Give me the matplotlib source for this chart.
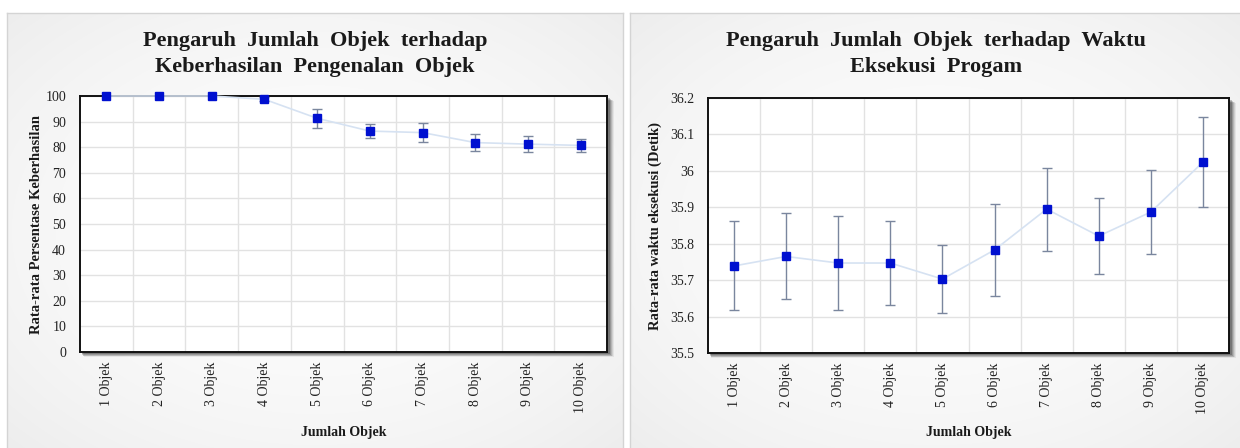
import numpy as np
import matplotlib
matplotlib.use("Agg")
import matplotlib.pyplot as plt
from matplotlib.patches import Rectangle
from matplotlib.ticker import FuncFormatter, MultipleLocator

# ---------------- data ----------------
categories = ["1 Objek", "2 Objek", "3 Objek", "4 Objek", "5 Objek",
              "6 Objek", "7 Objek", "8 Objek", "9 Objek", "10 Objek"]
success_mean = [100, 100, 100, 98.7, 91.3, 86.3, 85.7, 81.8, 81.2, 80.7]
success_err = [0, 0, 0, 0.8, 3.7, 2.9, 3.6, 3.2, 3.0, 2.6]
time_mean = [35.739, 35.765, 35.747, 35.747, 35.703, 35.783, 35.895, 35.821, 35.887, 36.024]
time_err = [0.122, 0.118, 0.130, 0.115, 0.093, 0.126, 0.114, 0.105, 0.116, 0.123]

title_left = ["Pengaruh  Jumlah  Objek  terhadap", "Keberhasilan  Pengenalan  Objek"]
title_right = ["Pengaruh  Jumlah  Objek  terhadap  Waktu", "Eksekusi  Progam"]
ylabel_left = "Rata-rata Persentase Keberhasilan"
ylabel_right = "Rata-rata waktu eksekusi (Detik)"
xlabel = "Jumlah Objek"

W, H = 1240, 448
plt.rcParams['font.family'] = ['Liberation Serif', 'DejaVu Serif']
fig = plt.figure(figsize=(W / 100, H / 100), dpi=100)
fig.patch.set_facecolor("white")


def px_rect(x0, y0, x1, y1):
    """convert top-left pixel box to figure fraction [l, b, w, h]"""
    return [x0 / W, (H - y1) / H, (x1 - x0) / W, (y1 - y0) / H]


def card(x0, y0, x1, y1):
    cax = fig.add_axes(px_rect(x0, y0, x1, y1), zorder=0)
    ny, nx = 200, 300
    yy, xx = np.mgrid[-1:1:ny * 1j, -1:1:nx * 1j]
    r = np.sqrt(xx ** 2 + yy ** 2) / np.sqrt(2)
    g = 0.99 - 0.06 * r ** 2
    img = np.dstack([g, g, g])
    cax.imshow(img, aspect="auto", extent=[0, 1, 0, 1], interpolation="bilinear")
    cax.set_xlim(0, 1)
    cax.set_ylim(0, 1)
    cax.set_xticks([])
    cax.set_yticks([])
    for s in cax.spines.values():
        s.set_color("#d4d4d4")
        s.set_linewidth(1.0)
    return cax


def shadow(x0, y0, x1, y1):
    # soft drop shadow to right/bottom of plot area
    for k, a in zip(range(5, 0, -1), [0.06, 0.09, 0.12, 0.16, 0.22]):
        off = 1.5
        rect = Rectangle(((x0 + off + k * 0.4) / W, (H - y1 - off - k * 0.7) / H),
                         (x1 - x0 + k * 0.6) / W, (y1 - y0) / H,
                         transform=fig.transFigure, facecolor="black",
                         edgecolor="none", alpha=a, zorder=1)
        fig.patches.append(rect)


card(7, 13, 623, 449)
card(630, 13, 1241, 449)

for cx, lines in ((315, title_left), (936, title_right)):
    for ty, line in zip((41, 67), lines):
        fig.text(cx / W, 1 - ty / H, line, ha="center", va="center",
                 fontsize=16, fontweight="bold", color="#1a1a1a")

x = np.arange(1, len(categories) + 1)


def make_axes(box, mean, err, ylim, ystep, fmt, ylabel, ylabel_x):
    x0, y0, x1, y1 = box
    shadow(x0, y0, x1, y1)
    ax = fig.add_axes(px_rect(x0, y0, x1, y1), zorder=2)
    ax.set_facecolor("white")
    ax.set_xlim(0.5, len(categories) + 0.5)
    ax.set_ylim(*ylim)
    ax.yaxis.set_major_locator(MultipleLocator(ystep))
    ax.yaxis.set_major_formatter(FuncFormatter(fmt))
    ax.set_xticks(x)
    ax.set_xticklabels(categories, rotation=90, fontsize=10, color="#222222")
    ax.set_xticks(np.arange(1.5, len(categories), 1.0), minor=True)
    ax.tick_params(axis="x", which="both", length=0, pad=7)
    ax.tick_params(axis="y", which="both", length=0, pad=10, labelsize=10,
                   labelcolor="#222222")
    ax.grid(True, axis="y", which="major", color="#e2e2e2", linewidth=1.0)
    ax.grid(True, axis="x", which="minor", color="#e2e2e2", linewidth=1.0)
    ax.set_axisbelow(True)
    for s in ax.spines.values():
        s.set_color("#111111")
        s.set_linewidth(1.4)
    ax.plot(x, mean, color="#d6e2f2", linewidth=1.2, zorder=3, clip_on=False)
    mean_a = np.asarray(mean, dtype=float)
    err_a = np.asarray(err, dtype=float)
    has = err_a > 0
    ax.errorbar(x[has], mean_a[has], yerr=err_a[has], fmt="none", ecolor="#7a869e",
                elinewidth=1.0, capsize=3.5, capthick=1.0, zorder=4, clip_on=False)
    ax.plot(x, mean, linestyle="none", marker="s", markersize=5.5,
            color="#0010d0", markeredgecolor="#0010d0", zorder=6, clip_on=False)
    fig.text(ylabel_x / W, 1 - ((y0 + y1) / 2) / H, ylabel, rotation=90,
             ha="center", va="center", fontsize=10.5, fontweight="bold",
             color="#1a1a1a")
    fig.text(((x0 + x1) / 2) / W, 1 - 432 / H, xlabel, ha="center", va="center",
             fontsize=10, fontweight="bold", color="#1a1a1a")
    return ax


def fmt_left(v, pos):
    return f"{v:.0f}"


def fmt_right(v, pos):
    s = f"{v:.1f}"
    return s[:-2] if s.endswith(".0") else s


make_axes((80, 96, 607, 352), success_mean, success_err, (0, 100), 10,
          fmt_left, ylabel_left, 37)
make_axes((708, 98, 1229, 353), time_mean, time_err, (35.5, 36.2), 0.1,
          fmt_right, ylabel_right, 655)

fig.savefig("out.png", dpi=100)
